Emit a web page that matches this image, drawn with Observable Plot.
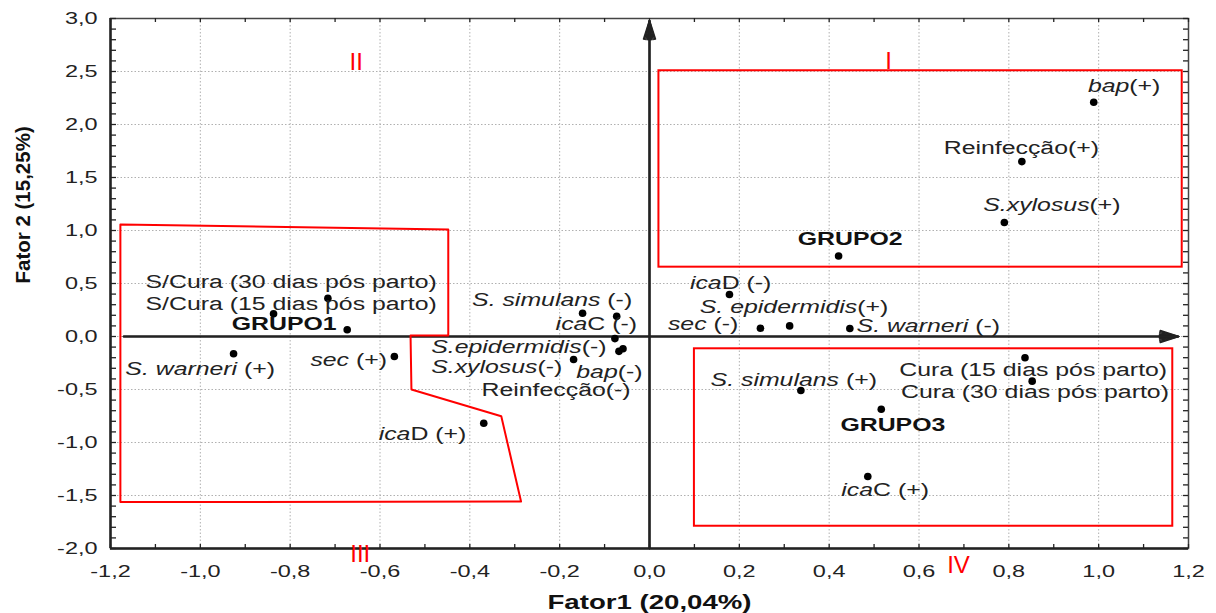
<!DOCTYPE html>
<html><head><meta charset="utf-8">
<script src="https://cdn.jsdelivr.net/npm/d3@7"></script>
<script src="https://cdn.jsdelivr.net/npm/@observablehq/plot@0.6"></script>
<style>body{margin:0;background:#fff}</style>
</head><body>
<script>
// ---- data ----
const names = ["bap(+)", "Reinfecção(+)", "S.xylosus(+)", "GRUPO2",
  "icaD (-)", "S. epidermidis(+)", "sec (-)", "S. warneri (-)",
  "S. simulans (-)", "icaC (-)", "S.epidermidis(-)", "bap(-)", "Reinfecção(-)", "S.xylosus(-)",
  "S/Cura (30 dias pós parto)", "S/Cura (15 dias pós parto)", "GRUPO1", "S. warneri (+)", "sec (+)", "icaD (+)",
  "Cura (15 dias pós parto)", "Cura (30 dias pós parto)", "S. simulans (+)", "GRUPO3", "icaC (+)"];
const italicPart = ["bap", "", "S.xylosus", "",
  "ica", "S. epidermidis", "sec", "S. warneri",
  "S. simulans", "ica", "S.epidermidis", "bap", "", "S.xylosus",
  "", "", "", "S. warneri", "sec", "ica",
  "", "", "S. simulans", "", "ica"];
const fator1 = [0.989, 0.829, 0.79, 0.421,
  0.178, 0.312, 0.247, 0.446,
  -0.149, -0.073, -0.077, -0.068, -0.059, -0.169,
  -0.716, -0.837, -0.673, -0.926, -0.568, -0.369,
  0.836, 0.852, 0.337, 0.516, 0.486];
const fator2 = [2.21, 1.65, 1.075, 0.76,
  0.396, 0.10, 0.078, 0.075,
  0.22, 0.19, -0.02, -0.14, -0.116, -0.217,
  0.36, 0.214, 0.063, -0.163, -0.189, -0.818,
  -0.201, -0.421, -0.509, -0.686, -1.321];
// label anchor (left edge, middle) in data units
const labelF1 = [0.976, 0.655, 0.743, 0.33,
  0.09, 0.112, 0.041, 0.461,
  -0.395, -0.209, -0.486, -0.163, -0.374, -0.486,
  -1.122, -1.122, -0.93, -1.167, -0.755, -0.603,
  0.556, 0.56, 0.136, 0.425, 0.427];
const labelF2 = [2.358, 1.776, 1.236, 0.92,
  0.503, 0.277, 0.113, 0.094,
  0.34, 0.12, -0.10, -0.337, -0.51, -0.29,
  0.512, 0.308, 0.12, -0.305, -0.226, -0.918,
  -0.32, -0.525, -0.409, -0.84, -1.446];

const romanText = ["I", "II", "III", "IV"];
const romanF1 = [0.532, -0.653, -0.644, 0.688];
const romanF2 = [2.594, 2.585, -2.052, -2.16];

const grupo2PolyF1 = [-1.178, -0.448, -0.448, -0.532, -0.530, -0.330, -0.286, -1.178, -1.178];
const grupo2PolyF2 = [1.057, 1.009, 0.010, 0.010, -0.50, -0.752, -1.557, -1.562, 1.057];
const boxGrupo1 = {x1: 0.021, x2: 1.186, y1: 0.654, y2: 2.507};
const boxGrupo3 = {x1: 0.10, x2: 1.165, y1: -1.79, y2: -0.116};

const xTicks = [-1.2, -1.0, -0.8, -0.6, -0.4, -0.2, 0, 0.2, 0.4, 0.6, 0.8, 1.0, 1.2];
const yTicks = [-2.0, -1.5, -1.0, -0.5, 0, 0.5, 1.0, 1.5, 2.0, 2.5, 3.0];
const xTitle = "Fator1 (20,04%)";
const yTitle = "Fator 2 (15,25%)";

// ---- build ----
const fmt = v => (v < 0 ? "-" : "") + Math.abs(v).toFixed(1).replace(".", ",");
const xMinor = d3.range(-12, 13).map(i => i / 10);
const yMinor = d3.range(-20, 31).map(i => i / 10);
const xGrid = xTicks.slice(1, -1);
const yGrid = yTicks.slice(1, -1);

const W = 1216, H = 613, mT = 18, mB = 65, mL = 110, mR = 28;
const PW = W - mL - mR, PH = H - mT - mB;

const pts = names.map((n, i) => ({name: n, f1: fator1[i], f2: fator2[i], lf1: labelF1[i], lf2: labelF2[i], it: italicPart[i], bold: n.startsWith("GRUPO")}));
const poly = grupo2PolyF1.map((x, i) => ({x, y: grupo2PolyF2[i]}));
const romans = romanText.map((t, i) => ({t, x: romanF1[i], y: romanF2[i]}));
const dark = "#222";

const axesArrows = [{x1: -1.171, y1: 0, x2: 1.178, y2: 0}, {x1: 0, y1: -2, x2: 0, y2: 2.98}];
const headAngles = [6, 14, 22, 30, 36];

const chart = Plot.plot({
  width: W, height: H,
  marginTop: mT, marginBottom: mB, marginLeft: mL, marginRight: mR,
  x: {domain: [-1.2, 1.2], axis: null},
  y: {domain: [-2, 3], axis: null},
  style: {fontFamily: "'Liberation Sans', Arial, sans-serif", fontSize: "17px", background: "white", color: dark},
  marks: [
    Plot.ruleX(xGrid, {x: d => d, stroke: "#b0b0b0", strokeDasharray: "1.5,2"}),
    Plot.ruleY(yGrid, {y: d => d, stroke: "#b0b0b0", strokeDasharray: "1.5,2"}),
    Plot.frame({stroke: "#444", strokeWidth: 1.5}),
    // minor/major ticks pointing inward
    Plot.ruleX(xMinor, {x: d => d, insetTop: PH - 4, stroke: dark, strokeWidth: 1.3}),
    Plot.ruleX(xMinor, {x: d => d, insetBottom: PH - 4, stroke: dark, strokeWidth: 1.3}),
    Plot.ruleY(yMinor, {y: d => d, insetRight: PW - 6, stroke: dark, strokeWidth: 1.3}),
    Plot.ruleY(yMinor, {y: d => d, insetLeft: PW - 5, stroke: dark, strokeWidth: 1.3}),
    Plot.ruleX([-1.2], {x: d => d, stroke: dark, strokeWidth: 2.5}),
    Plot.ruleY([-2], {y: d => d, stroke: dark, strokeWidth: 2.5}),
    // zero axes with (filled-looking) arrows
    ...headAngles.map(a => Plot.arrow(axesArrows, {x1: "x1", y1: "y1", x2: "x2", y2: "y2", stroke: dark, strokeWidth: 1.6, headLength: 18, headAngle: a})),
    // group outlines
    Plot.line(poly, {x: "x", y: "y", stroke: "red", strokeWidth: 2, curve: "linear"}),
    Plot.rect([boxGrupo1, boxGrupo3], {x1: "x1", x2: "x2", y1: "y1", y2: "y2", fill: "none", stroke: "red", strokeWidth: 2}),
    // points
    Plot.dot(pts, {x: "f1", y: "f2", r: 3.8, fill: "black", stroke: "none"}),
    // labels
    Plot.text(pts.filter(d => !d.bold), {x: "lf1", y: "lf2", text: "name", textAnchor: "start", lineAnchor: "middle", fontSize: 18, fill: dark}),
    Plot.text(pts.filter(d => d.bold), {x: "lf1", y: "lf2", text: "name", textAnchor: "start", lineAnchor: "middle", fontSize: 18, fontWeight: "bold", fill: "#111"}),
    // roman numerals
    Plot.text(romans, {x: "x", y: "y", text: "t", fontSize: 24, fill: "red", lineAnchor: "middle"}),
    // tick labels
    Plot.text(xTicks, {x: d => d, frameAnchor: "bottom", dy: 23, text: d => fmt(d), lineAnchor: "middle", fontSize: 17, fill: dark}),
    Plot.text(yTicks, {y: d => d, frameAnchor: "left", dx: -13, text: d => fmt(d), textAnchor: "end", lineAnchor: "middle", fontSize: 17, fill: dark}),
    // axis titles
    Plot.text([xTitle], {frameAnchor: "bottom", dy: 54, text: d => d, fontSize: 20, fontWeight: "bold", fill: "#111", lineAnchor: "middle"}),
    Plot.text([yTitle], {frameAnchor: "left", dx: -87, text: d => d, fontSize: 20.5, fontWeight: "bold", fill: "#111", rotate: -90, lineAnchor: "middle"})
  ]
});
document.body.appendChild(chart);

// italic fragments
const itMap = new Map(names.map((n, i) => [n, italicPart[i]]));
const noStretch = new Set([...romanText, yTitle]);
const svgNS = "http://www.w3.org/2000/svg";
chart.querySelectorAll("text").forEach(t => {
  const s = t.textContent;
  const it = itMap.get(s);
  if (it) {
    const k = s.indexOf(it);
    t.textContent = "";
    if (k > 0) t.appendChild(document.createTextNode(s.slice(0, k)));
    const ts = document.createElementNS(svgNS, "tspan");
    ts.setAttribute("font-style", "italic");
    ts.textContent = it;
    t.appendChild(ts);
    const rest = s.slice(k + it.length);
    if (rest) t.appendChild(document.createTextNode(rest));
  }
});
// horizontal stretch of glyphs as in the reference
const STRETCH = 1.38;
chart.querySelectorAll("text").forEach(t => {
  if (noStretch.has(t.textContent)) return;
  const len = t.getComputedTextLength();
  if (len > 0) {
    t.setAttribute("textLength", (len * STRETCH).toFixed(1));
    t.setAttribute("lengthAdjust", "spacingAndGlyphs");
  }
});
</script>
</body></html>
